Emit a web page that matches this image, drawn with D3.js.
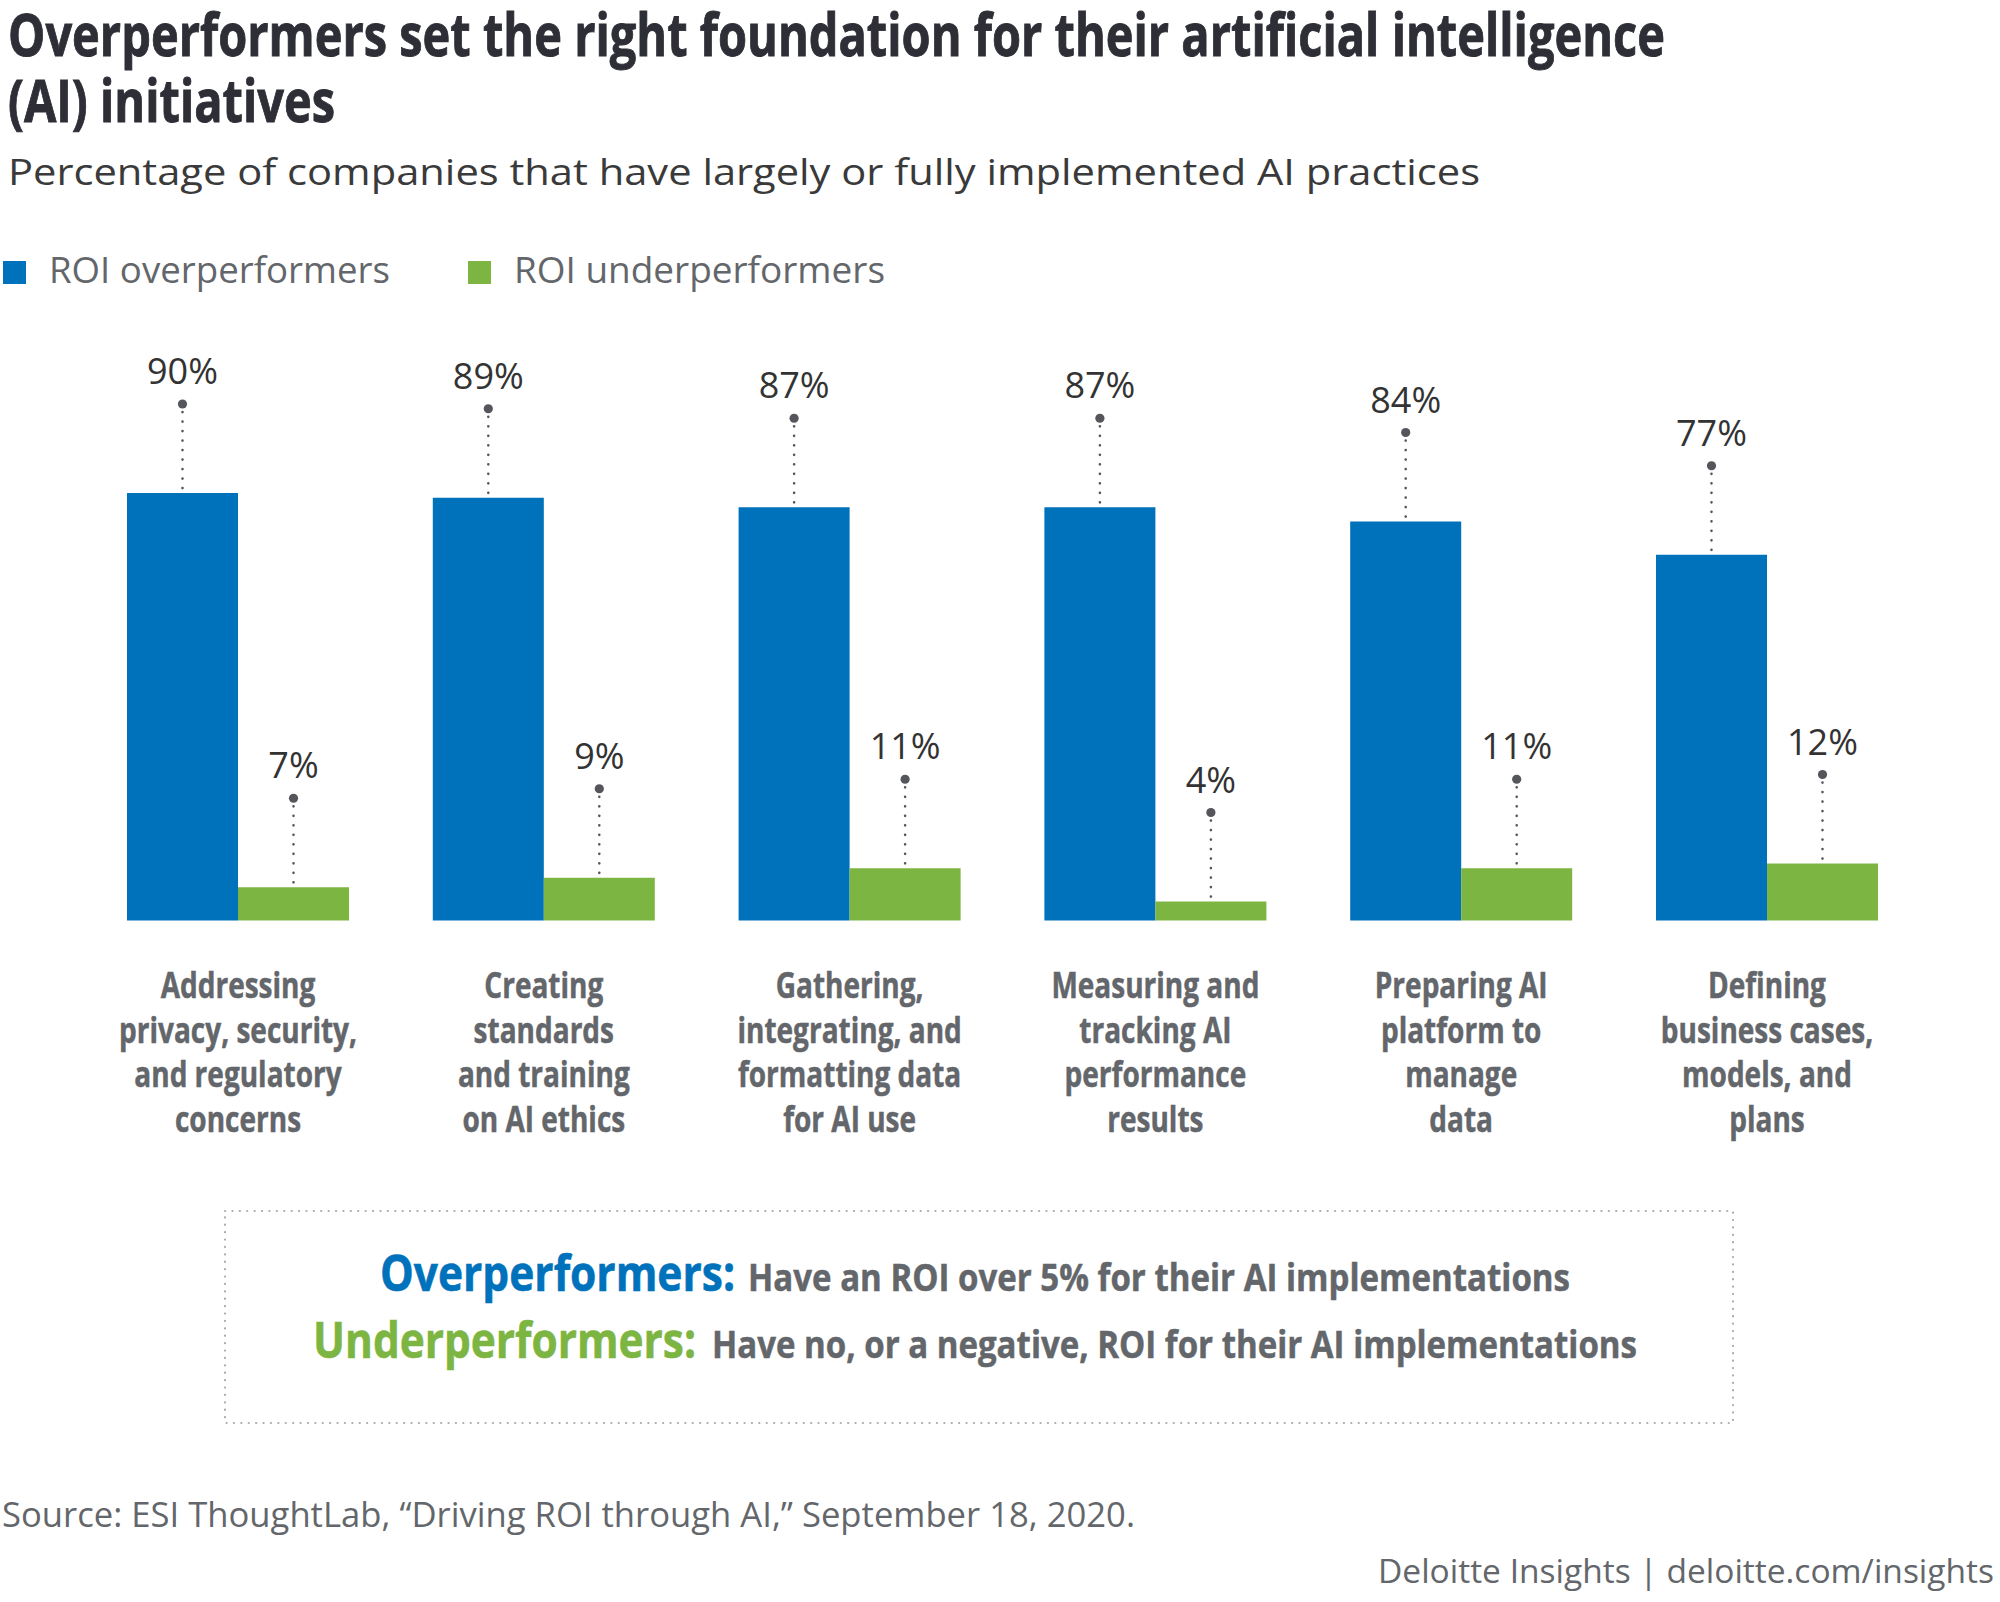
<!DOCTYPE html>
<html>
<head>
<meta charset="utf-8">
<script src="https://cdn.jsdelivr.net/npm/d3@7"></script>
<style>
  body { margin: 0; background: #fff; }
  svg { display: block; }
  text { font-family: "Open Sans", sans-serif; }
</style>
</head>
<body>
<svg id="chart" width="2000" height="1602"></svg>
<script>
const categories = ['privacy', 'ethics', 'data', 'tracking', 'platform', 'business']
const categoryLines = [
  ['Addressing', 'privacy, security,', 'and regulatory', 'concerns'],
  ['Creating', 'standards', 'and training', 'on AI ethics'],
  ['Gathering,', 'integrating, and', 'formatting data', 'for AI use'],
  ['Measuring and', 'tracking AI', 'performance', 'results'],
  ['Preparing AI', 'platform to', 'manage', 'data'],
  ['Defining', 'business cases,', 'models, and', 'plans']
]
const seriesNames = ['ROI overperformers', 'ROI underperformers']
const overperformers = [90, 89, 87, 87, 84, 77]
const underperformers = [7, 9, 11, 4, 11, 12]

const blue = '#0071bb'
const green = '#7db543'
const grey = '#63666a'
const dark = '#2d2e36'

const svg = d3.select('#chart')

// squeeze a text to a given width (condensed look, no condensed font installed)
function fitWidth(sel, w) {
  sel.attr('textLength', w).attr('lengthAdjust', 'spacingAndGlyphs')
}
function squeeze(sel, ratio) {
  sel.each(function() {
    const len = this.getComputedTextLength()
    d3.select(this).attr('textLength', len * ratio).attr('lengthAdjust', 'spacingAndGlyphs')
  })
}

// title + subtitle
const title = svg.append('g')
  .style('font-weight', 700)
  .style('font-size', '59px')
  .attr('fill', dark)
  .attr('stroke', dark)
  .attr('stroke-width', 0.9)
const t1 = title.append('text').attr('x', 8).attr('y', 56)
  .text('Overperformers set the right foundation for their artificial intelligence')
title.append('text').attr('x', 8).attr('y', 122)
  .text('(AI) initiatives')
const titleRatio = 1657 / t1.node().getComputedTextLength()
squeeze(title.selectAll('text'), titleRatio)

svg.append('text')
  .attr('x', 8).attr('y', 185)
  .style('font-size', '36px')
  .attr('fill', '#3a3a3a')
  .text('Percentage of companies that have largely or fully implemented AI practices')
  .call(fitWidth, 1472)

// legend
const legendX = [3, 468]
const legendW = [341, 371]
const legend = svg.append('g')
seriesNames.forEach((name, i) => {
  legend.append('rect')
    .attr('x', legendX[i]).attr('y', 261)
    .attr('width', 23).attr('height', 23)
    .attr('fill', i === 0 ? blue : green)
  legend.append('text')
    .attr('x', legendX[i] + 46).attr('y', 283)
    .style('font-size', '36px')
    .attr('fill', grey)
    .text(name)
    .call(fitWidth, legendW[i])
})

// scales
const x0 = d3.scaleBand()
  .domain(categories)
  .range([127, 1878])
  .paddingInner(0.274)
  .paddingOuter(0)

const x1 = d3.scaleBand()
  .domain(seriesNames)
  .range([0, x0.bandwidth()])

const y = d3.scaleLinear()
  .domain([0, 100])
  .range([920.5, 445.5])

const rows = categories.map((c, i) => ({
  key: c,
  lines: categoryLines[i],
  values: [
    { series: seriesNames[0], value: overperformers[i], color: blue },
    { series: seriesNames[1], value: underperformers[i], color: green }
  ]
}))

const groups = svg.append('g')
  .selectAll('g')
  .data(rows)
  .enter()
  .append('g')
  .attr('transform', d => `translate(${x0(d.key)},0)`)

const bars = groups.selectAll('g.bar')
  .data(d => d.values)
  .enter()
  .append('g')
  .attr('class', 'bar')

bars.append('rect')
  .attr('x', d => x1(d.series))
  .attr('y', d => y(d.value))
  .attr('width', x1.bandwidth())
  .attr('height', d => y(0) - y(d.value))
  .attr('fill', d => d.color)

const lift = 89

bars.append('line')
  .attr('x1', d => x1(d.series) + x1.bandwidth() / 2)
  .attr('x2', d => x1(d.series) + x1.bandwidth() / 2)
  .attr('y1', d => y(d.value) - lift + 8)
  .attr('y2', d => y(d.value))
  .attr('stroke', '#55565c')
  .attr('stroke-width', 2.6)
  .attr('stroke-linecap', 'round')
  .attr('stroke-dasharray', '0.1 9.4')

bars.append('circle')
  .attr('cx', d => x1(d.series) + x1.bandwidth() / 2)
  .attr('cy', d => y(d.value) - lift)
  .attr('r', 4.6)
  .attr('fill', '#55565c')

bars.append('text')
  .attr('x', d => x1(d.series) + x1.bandwidth() / 2)
  .attr('y', d => y(d.value) - lift - 20)
  .attr('text-anchor', 'middle')
  .style('font-size', '36px')
  .attr('fill', '#333')
  .text(d => d.value + '%')

// category labels
const labels = groups.append('g')
  .attr('class', 'label')
  .style('font-size', '35px')
  .style('font-weight', 700)
  .attr('fill', grey)
  .attr('stroke', grey)
  .attr('stroke-width', 0.5)

labels.selectAll('text')
  .data(d => d.lines)
  .enter()
  .append('text')
  .attr('x', x0.bandwidth() / 2)
  .attr('y', (d, j) => 998 + j * 44.5)
  .attr('text-anchor', 'middle')
  .text(d => d)

squeeze(labels.selectAll('text'), 0.8)

// note box
svg.append('rect')
  .attr('x', 225).attr('y', 1211)
  .attr('width', 1508).attr('height', 212)
  .attr('fill', 'none')
  .attr('stroke', '#a9abb0')
  .attr('stroke-width', 2.2)
  .attr('stroke-linecap', 'round')
  .attr('stroke-dasharray', '0.1 7.3')

const notes = [
  { head: 'Overperformers:', body: 'Have an ROI over 5% for their AI implementations', color: blue,
    hx: 380, hw: 355, bx: 748, bw: 822, y: 1291 },
  { head: 'Underperformers:', body: 'Have no, or a negative, ROI for their AI implementations', color: green,
    hx: 313, hw: 383, bx: 712, bw: 925, y: 1357.5 }
]
notes.forEach(n => {
  svg.append('text')
    .attr('x', n.hx).attr('y', n.y)
    .style('font-size', '50px').style('font-weight', 700)
    .attr('fill', n.color)
    .attr('stroke', n.color).attr('stroke-width', 0.6)
    .text(n.head)
    .call(fitWidth, n.hw)
  svg.append('text')
    .attr('x', n.bx).attr('y', n.y)
    .style('font-size', '38px').style('font-weight', 700)
    .attr('fill', grey)
    .attr('stroke', grey).attr('stroke-width', 0.5)
    .text(n.body)
    .call(fitWidth, n.bw)
})

// source + footer
svg.append('text')
  .attr('x', 2).attr('y', 1527)
  .style('font-size', '35px')
  .attr('fill', grey)
  .text('Source: ESI ThoughtLab, \u201cDriving ROI through AI,\u201d September 18, 2020.')
  .call(fitWidth, 1133)

svg.append('text')
  .attr('x', 1994).attr('y', 1583)
  .attr('text-anchor', 'end')
  .style('font-size', '33px')
  .attr('fill', grey)
  .text('Deloitte Insights | deloitte.com/insights')
  .call(fitWidth, 616)
</script>
</body>
</html>
